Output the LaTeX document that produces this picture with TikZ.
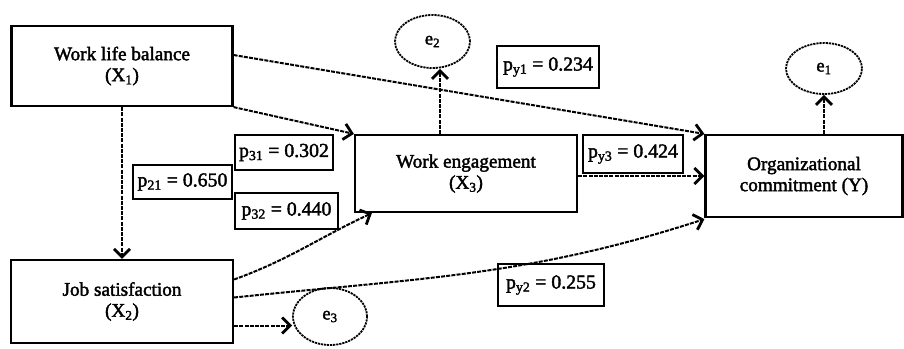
\documentclass[tikz,border=0pt]{standalone}
\usepackage{fontspec}
\setmainfont{Liberation Serif}
\newfontfamily\heavyserif[FakeBold=2]{Liberation Serif}
\usetikzlibrary{arrows.meta,shapes.geometric}
\begin{document}
\begin{tikzpicture}[x=1pt,y=-1pt,
  varbox/.style={draw, line width=2.2pt, align=center, inner sep=0pt,
    font=\heavyserif\fontsize{19.2}{21}\selectfont},
  coefbox/.style={draw, line width=2pt, inner sep=0pt,
    font=\heavyserif\fontsize{19.8}{22}\selectfont},
  errnode/.style={ellipse, draw, dash pattern=on 2.2pt off 0.9pt, line width=1.8pt,
    inner sep=0pt, font=\heavyserif\fontsize{18.5}{20}\selectfont},
  link/.style={line width=2pt, dash pattern=on 4pt off 1.2pt,
    -{Straight Barb[length=8pt,width=16pt,line width=2.8pt]}}
]
\useasboundingbox (0,0) rectangle (904,348);

% latent variables
\node[varbox, minimum width=221pt, minimum height=80pt] (wlb) at (122,66)
  {Work life balance\\(X\textsubscript{1})};
\node[varbox, minimum width=222pt, minimum height=83pt] (js) at (122,301.5)
  {Job satisfaction\\(X\textsubscript{2})};
\node[varbox, minimum width=222pt, minimum height=77pt] (we) at (466,173.5)
  {Work engagement\\(X\textsubscript{3})};
\node[varbox, minimum width=197pt, minimum height=82pt] (oc) at (804,176)
  {Organizational\\commitment (Y)};

% error terms
\node[errnode, minimum width=75pt, minimum height=53pt] (e2) at (432.5,41.5) {e\textsubscript{2}};
\node[errnode, minimum width=76pt, minimum height=51pt] (e1) at (824,68.5) {e\textsubscript{1}};
\node[errnode, minimum width=74pt, minimum height=57pt] (e3) at (330,316.5) {e\textsubscript{3}};

% path coefficients
\node[coefbox, minimum width=99pt, minimum height=34pt] (p21) at (182.5,182) {p\textsubscript{21} = 0.650};
\node[coefbox, minimum width=98pt, minimum height=35pt] (p31) at (284,152.5) {p\textsubscript{31} = 0.302};
\node[coefbox, minimum width=103pt, minimum height=36pt] (p32) at (286.5,211) {p\textsubscript{32} = 0.440};
\node[coefbox, minimum width=102pt, minimum height=42pt] (py1) at (548,67) {p\textsubscript{y1} = 0.234};
\node[coefbox, minimum width=100pt, minimum height=38pt] (py3) at (633,154) {p\textsubscript{y3} = 0.424};
\node[coefbox, minimum width=106pt, minimum height=42pt] (py2) at (551,285) {p\textsubscript{y2} = 0.255};

% structural paths
\draw[link] ([yshift=11pt]wlb.east) -- (oc.north west);
\draw[link] (wlb.south east) -- (we.north west);
\draw[link] (wlb.south -| js.north) -- (js.north);
\draw[link] ([yshift=22pt]js.east) to[out=20,in=205] ([xshift=18pt]we.south west);
\draw[link] ([yshift=4pt]js.east) to[out=6,in=198] ([yshift=-1pt]oc.south west);
\draw[link] (we.east |- oc.west) -- (oc.west);

% residual paths
\draw[link] ([yshift=-24pt]js.east) -- ([yshift=-24pt]js.east -| e3.west);
\draw[link] ([xshift=-26pt]we.north) -- ([xshift=-26pt]we.north |- e2.south);
\draw[link] (e1.south |- oc.north) -- (e1.south);
\end{tikzpicture}
\end{document}
